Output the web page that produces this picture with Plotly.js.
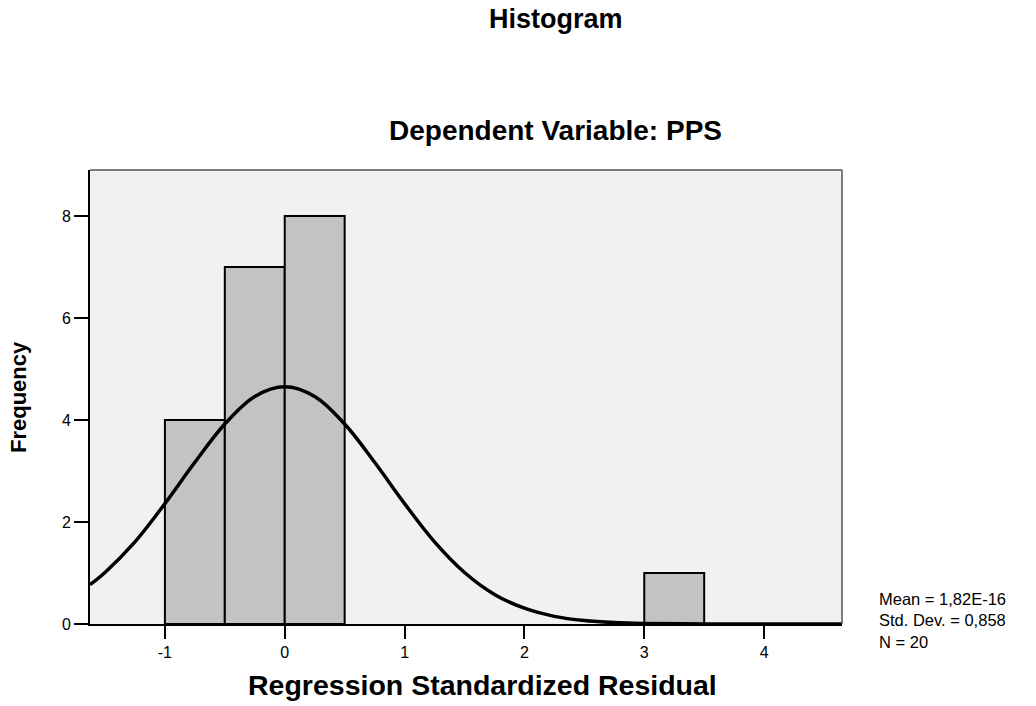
<!DOCTYPE html>
<html>
<head>
<meta charset="utf-8">
<script src="https://cdn.plot.ly/plotly-3.0.1.min.js"></script>
<style>html,body{margin:0;padding:0;background:#fff;}#chart{width:1036px;height:706px;}</style>
</head>
<body>
<div id="chart"></div>
<script>
// Histogram bins (centers), width 0.5
var binCenters = [-0.75, -0.25, 0.25, 3.25];
var binCounts = [4, 7, 8, 1];
var binWidth = 0.5;

// Normal curve
var curveX = [-1.625, -1.5, -1.25, -1.0, -0.75, -0.5, -0.25, 0, 0.25, 0.5, 0.75, 1.0, 1.25, 1.5, 1.75, 2.0, 2.25, 2.5, 2.75, 3.0, 3.5, 4.0, 4.65];
var curveY = [0.77, 1.01, 1.61, 2.36, 3.17, 3.92, 4.46, 4.65, 4.46, 3.92, 3.17, 2.36, 1.61, 1.01, 0.58, 0.31, 0.15, 0.067, 0.027, 0.010, 0.001, 0, 0];

var xTicks = [-1, 0, 1, 2, 3, 4];
var yTicks = [0, 2, 4, 6, 8];

var statsLines = ["Mean = 1,82E-16", "Std. Dev. = 0,858", "N = 20"];

var font = "Liberation Sans, Arial, sans-serif";

var traces = [
  {
    type: "bar",
    x: binCenters,
    y: binCounts,
    width: binWidth,
    marker: {color: "#c3c3c3", line: {color: "#000", width: 2}},
    hoverinfo: "x+y"
  },
  {
    type: "scatter",
    mode: "lines",
    x: curveX,
    y: curveY,
    line: {color: "#000", width: 3.5, shape: "spline"},
    hoverinfo: "skip"
  }
];

var annotations = [
  {text: "<b>Histogram</b>", xref: "paper", yref: "paper", x: 0.5, y: 1, yshift: 151, xshift: 90, showarrow: false, font: {size: 27, family: font}, xanchor: "center", yanchor: "middle"},
  {text: "<b>Dependent Variable: PPS</b>", xref: "paper", yref: "paper", x: 0.5, y: 1, yshift: 40, xshift: 89, showarrow: false, font: {size: 28, family: font}, xanchor: "center", yanchor: "middle"},
  {text: "<b>Regression Standardized Residual</b>", xref: "paper", yref: "paper", x: 0.5, y: 0, yshift: -61, xshift: 16, showarrow: false, font: {size: 28.5, family: font}, xanchor: "center", yanchor: "middle"},
  {text: "<b>Frequency</b>", xref: "paper", yref: "paper", x: 0, y: 0.5, xshift: -72, textangle: -90, showarrow: false, font: {size: 22, family: font}, xanchor: "center", yanchor: "middle"},
  {text: statsLines.join("<br>"), xref: "paper", yref: "paper", x: 1, y: 0, xshift: 35, yshift: 4, showarrow: false, align: "left", xanchor: "left", yanchor: "middle", font: {size: 16.5, family: font}}
];

var layout = {
  width: 1036,
  height: 706,
  paper_bgcolor: "#ffffff",
  plot_bgcolor: "#f1f1f1",
  showlegend: false,
  margin: {l: 90, r: 194, t: 170, b: 82},
  font: {family: font, color: "#000"},
  xaxis: {
    range: [-1.625, 4.65],
    tickvals: xTicks,
    ticktext: xTicks.map(String),
    ticks: "outside",
    ticklen: 13,
    tickwidth: 2,
    tickcolor: "#000",
    showgrid: false,
    zeroline: false,
    showline: true,
    linecolor: "#000",
    linewidth: 2,
    tickfont: {size: 16, family: font}
  },
  yaxis: {
    range: [0, 8.9],
    tickvals: yTicks,
    ticks: "outside",
    ticklen: 14,
    tickwidth: 2,
    tickcolor: "#000",
    showgrid: false,
    zeroline: false,
    showline: true,
    linecolor: "#000",
    linewidth: 2,
    tickfont: {size: 16, family: font}
  },
  shapes: [
    {type: "line", xref: "paper", yref: "paper", x0: 0, x1: 1, y0: 1, y1: 1, line: {color: "#555", width: 1.5}},
    {type: "line", xref: "paper", yref: "paper", x0: 1, x1: 1, y0: 0, y1: 1, line: {color: "#555", width: 1.5}}
  ],
  annotations: annotations
};

Plotly.newPlot("chart", traces, layout, {displayModeBar: false, staticPlot: true});
</script>
</body>
</html>
